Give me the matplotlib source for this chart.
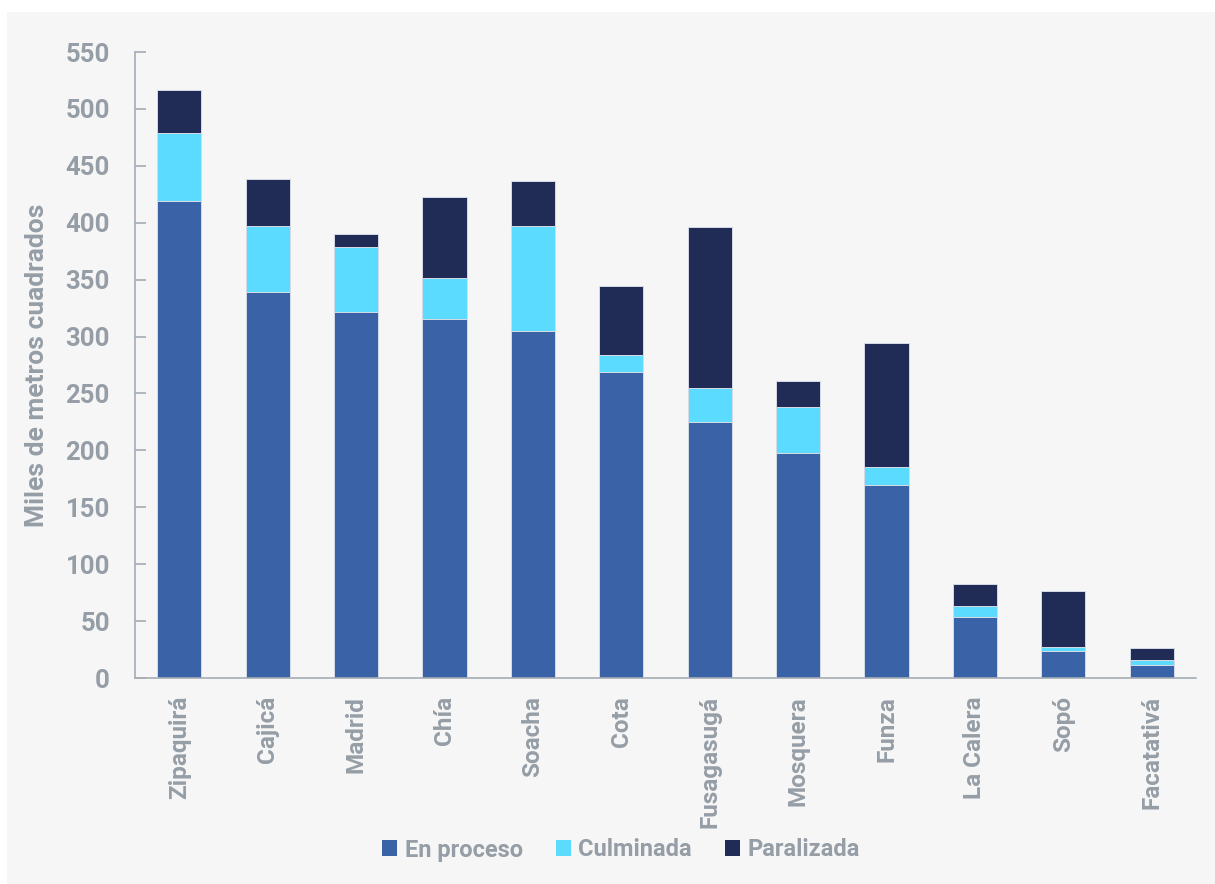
import numpy as np
import matplotlib
matplotlib.use('Agg')
import matplotlib.pyplot as plt
from matplotlib.patches import Rectangle

municipios = ['Zipaquirá', 'Cajicá', 'Madrid', 'Chía', 'Soacha', 'Cota',
              'Fusagasugá', 'Mosquera', 'Funza', 'La Calera', 'Sopó', 'Facatativá']

# miles de m2, acumulados por estado
en_proceso = [419, 339, 322, 315, 305, 269, 225, 198, 170, 54, 24, 11]
culminada = [60, 58, 57, 36, 92, 15, 30, 40, 15, 9, 3, 5]
paralizada = [38, 41, 11, 72, 40, 60, 141, 23, 109, 20, 49, 10]

serie_nombres = ['En proceso', 'Culminada', 'Paralizada']
colores = ['#3a62a7', '#5adbff', '#202c56']

gris = '#959da6'
fondo = '#f6f6f6'

plt.rcParams['font.family'] = ['Roboto', 'DejaVu Sans']
plt.rcParams['font.weight'] = 'bold'

fig = plt.figure(figsize=(12.15, 8.84), dpi=100)
fig.patch.set_facecolor('white')
fig.patches.append(Rectangle((7 / 1215, 0), 1, 1 - 12 / 884, transform=fig.transFigure,
                             facecolor=fondo, edgecolor='none', zorder=-10))

ax = fig.add_axes([135 / 1215, 1 - 678 / 884, (1196 - 135) / 1215, (678 - 52) / 884])
ax.set_facecolor(fondo)

x = np.arange(len(municipios))
base = np.zeros(len(municipios))
for nombre, valores, color in zip(serie_nombres, [en_proceso, culminada, paralizada], colores):
    ax.bar(x, valores, 0.5, bottom=base, color=color, label=nombre,
           edgecolor='#d5dbe6', linewidth=0.7)
    base = base + np.array(valores)

ax.set_xlim(-0.5, len(municipios) - 0.5)
ax.set_ylim(0, 550)
ax.set_yticks(range(0, 551, 50))
ax.set_xticks(x)
ax.set_xticklabels(municipios, rotation=90, fontsize=17.5, color=gris, fontweight='bold')

ax.tick_params(axis='y', direction='in', length=8, width=1.2, color='#a5acb4',
               labelsize=18.5, labelcolor=gris, pad=18)
ax.tick_params(axis='x', length=0, pad=13)
for lbl in ax.get_yticklabels():
    lbl.set_fontweight('bold')

for side in ['top', 'right']:
    ax.spines[side].set_visible(False)
for side in ['left', 'bottom']:
    ax.spines[side].set_color('#a5acb4')
    ax.spines[side].set_linewidth(1.2)

ax.set_ylabel('Miles de metros cuadrados', fontsize=19, color=gris, fontweight='bold', labelpad=12)

handles, labels = ax.get_legend_handles_labels()
leg = fig.legend(handles, labels, loc='center', bbox_to_anchor=(0.511, 1 - 850 / 884), ncol=3,
                 frameon=False, fontsize=17, handlelength=0.65, handleheight=0.65,
                 handletextpad=0.3, columnspacing=1.4)
for t in leg.get_texts():
    t.set_color(gris)
    t.set_fontweight('bold')
for h in leg.legend_handles:
    h.set_edgecolor('none')

fig.savefig('out.png', dpi=100, facecolor=fig.get_facecolor())
